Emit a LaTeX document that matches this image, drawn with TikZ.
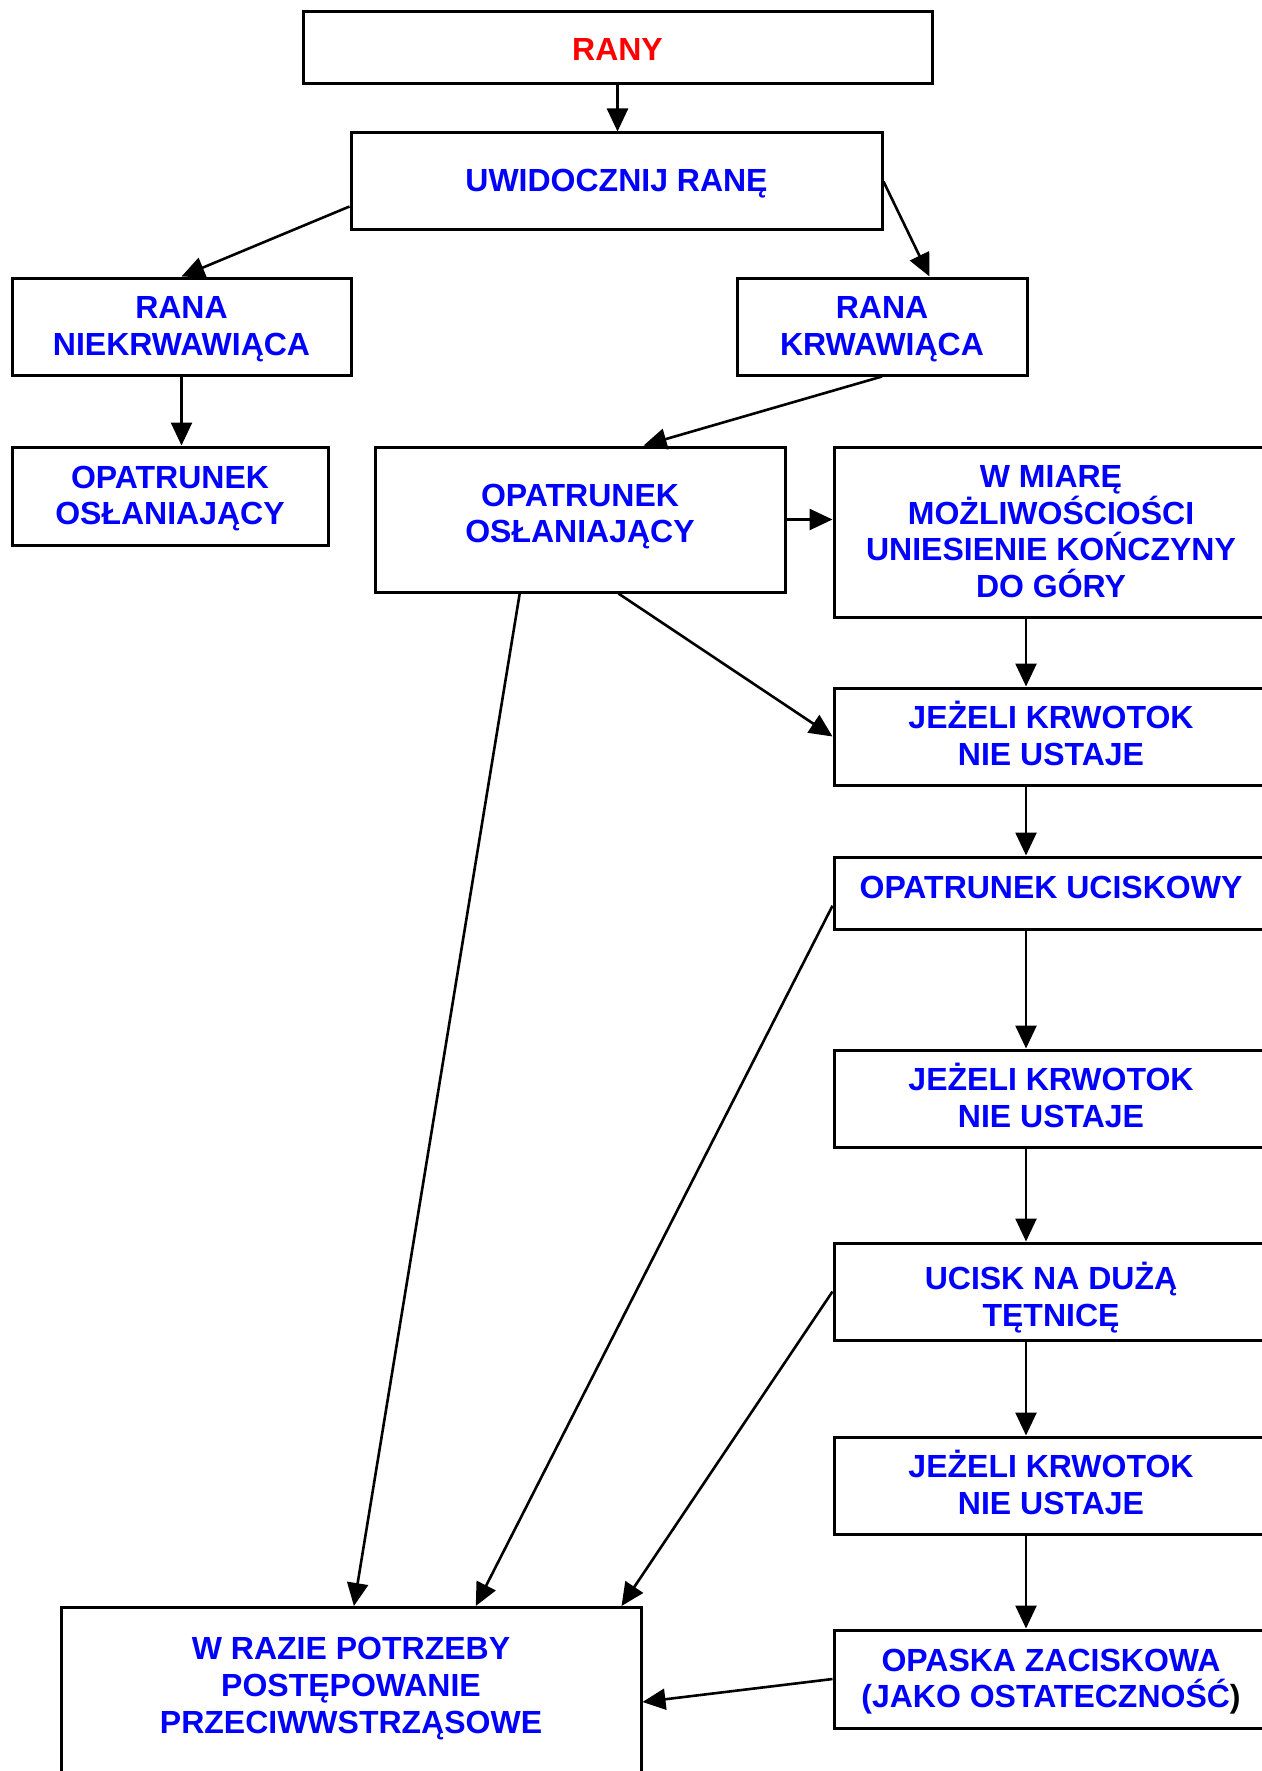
\documentclass[tikz,border=0pt]{standalone}
\usepackage{fontspec}
\setmainfont{Liberation Sans}
\usetikzlibrary{arrows.meta,calc}
\definecolor{tblue}{RGB}{0,0,255}
\definecolor{tred}{RGB}{255,0,0}
\newcommand\topst[1][32pt]{\rule{0pt}{#1}}
\newcommand\botst[1][11pt]{\rule[-#1]{0pt}{0pt}}
\tikzset{
  box/.style={draw=black, line width=3pt, rectangle, inner sep=0pt, align=center,
    text=tblue, font=\fontsize{32}{36.7}\selectfont\bfseries},
  arr/.style={line width=2.6pt, -{Triangle[length=23pt,width=21pt]}},
}
\begin{document}
\begin{tikzpicture}[x=1pt,y=-1pt]
\useasboundingbox (0,0) rectangle (1261,1771);
\coordinate (col) at (1026,0);
\node[box, text=tred, minimum width=629, minimum height=72] (rany) at (617.5,48) {\topst RANY\botst[6pt]};
\node[box, minimum width=531, minimum height=97] (uwid) at (616.5,181.5) {\topst UWIDOCZNIJ RANĘ\botst};
\node[box, minimum width=339, minimum height=97] (niek) at (181.5,326.5) {\topst RANA\\NIEKRWAWIĄCA\botst};
\node[box, minimum width=290, minimum height=97] (krw) at (882,326.5) {\topst RANA\\KRWAWIĄCA\botst};
\node[box, minimum width=316, minimum height=98] (opl) at (170,496) {\topst OPATRUNEK\\OSŁANIAJĄCY\botst};
\node[box, minimum width=410, minimum height=145] (opc) at (580,519.5) {\topst OPATRUNEK\\OSŁANIAJĄCY\botst[22pt]};
\node[box, minimum width=434, minimum height=170] (wm) at (1051,532) {\topst W MIARĘ\\MOŻLIWOŚCIOŚCI\\UNIESIENIE KOŃCZYNY\\DO GÓRY\botst};
\node[box, minimum width=434, minimum height=97] (j1) at (1051,736.5) {\topst JEŻELI KRWOTOK\\NIE USTAJE\botst};
\node[box, minimum width=434, minimum height=72] (uc) at (1051,893) {\topst OPATRUNEK UCISKOWY\botst[21pt]};
\node[box, minimum width=434, minimum height=97] (j2) at (1051,1098.5) {\topst JEŻELI KRWOTOK\\NIE USTAJE\botst};
\node[box, minimum width=434, minimum height=97] (ucisk) at (1051,1291.5) {\topst[44pt]UCISK NA DUŻĄ\\TĘTNICĘ\botst};
\node[box, minimum width=434, minimum height=97] (j3) at (1051,1485.5) {\topst JEŻELI KRWOTOK\\NIE USTAJE\botst};
\node[box, minimum width=434, minimum height=98] (opaska) at (1051,1679) {\topst OPASKA ZACISKOWA\\(JAKO OSTATECZNOŚĆ\textcolor{black}{)}\botst};
\node[box, minimum width=580, minimum height=200, anchor=north] (wr) at (351,1606) {};
\node[box, draw=none] (wrt) at (351,1686) {\topst W RAZIE POTRZEBY\\POSTĘPOWANIE\\PRZECIWWSTRZĄSOWE\botst};
% connectors
\draw[arr] (rany.south) -- (rany.south |- uwid.north);
\draw[arr] ($(uwid.south west)!0.25!(uwid.north west)$) -- (niek.north);
\draw[arr] (uwid.east) -- ($(krw.north west)!0.662!(krw.north east)$);
\draw[arr] (niek.south) -- (niek.south |- opl.north);
\draw[arr] (krw.south) -- ($(opc.north west)!0.654!(opc.north east)$);
\draw[arr] (opc.east) -- (opc.east -| wm.west);
\draw[arr] ($(opc.south west)!0.593!(opc.south east)$) -- (j1.west);
\draw[arr] ($(opc.south west)!0.354!(opc.south east)$) -- ($(wr.north west)!0.505!(wr.north east)$);
\draw[arr] (wm.south -| col) -- (j1.north -| col);
\draw[arr] (j1.south -| col) -- (uc.north -| col);
\draw[arr] (uc.south -| col) -- (j2.north -| col);
\draw[arr] (j2.south -| col) -- (ucisk.north -| col);
\draw[arr] (ucisk.south -| col) -- (j3.north -| col);
\draw[arr] (j3.south -| col) -- (opaska.north -| col);
\draw[arr] ($(uc.south west)!0.33!(uc.north west)$) -- ($(wr.north west)!0.714!(wr.north east)$);
\draw[arr] (ucisk.west) -- ($(wr.north west)!0.964!(wr.north east)$);
\draw[arr] (opaska.west) -- ($(wr.north east)+(0,96)$);
\end{tikzpicture}
\end{document}
